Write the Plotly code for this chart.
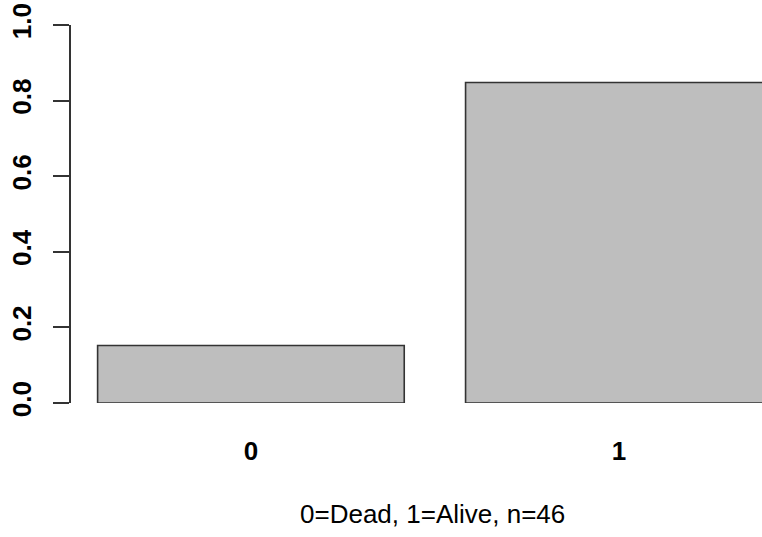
import plotly.graph_objects as go

categories = ["0", "1"]
proportions = [7 / 46, 39 / 46]
y_ticks = [0.0, 0.2, 0.4, 0.6, 0.8, 1.0]
subtitle = "0=Dead, 1=Alive, n=46"

FONT = "Liberation Sans, Arial, sans-serif"

fig = go.Figure(
    go.Bar(
        x=categories,
        y=proportions,
        width=1 / 1.2,
        marker=dict(color="#BEBEBE", line=dict(color="#333333", width=1.6)),
        hoverinfo="skip",
    )
)

fig.add_annotation(
    text=subtitle,
    xref="paper",
    yref="paper",
    x=0.523,
    y=-0.2937,
    xanchor="center",
    yanchor="middle",
    showarrow=False,
    font=dict(family=FONT, size=26, color="black"),
)

fig.update_layout(
    width=762,
    height=537,
    margin=dict(l=71, r=0, t=25, b=134, autoexpand=False),
    paper_bgcolor="white",
    plot_bgcolor="white",
    showlegend=False,
    font=dict(family=FONT, size=26, color="black"),
    xaxis=dict(
        type="category",
        range=[-0.489, 1.389],
        automargin=False,
        showline=False,
        showgrid=False,
        zeroline=False,
        ticks="",
        tickfont=dict(family=FONT, size=26, weight="bold", color="black"),
        ticklabelstandoff=30,
    ),
    yaxis=dict(
        range=[0, 1],
        automargin=False,
        tickvals=y_ticks,
        ticktext=[f"{v:.1f}" for v in y_ticks],
        tickangle=-90,
        showline=True,
        linecolor="#333333",
        linewidth=1.5,
        ticks="outside",
        ticklen=16,
        tickwidth=1.5,
        tickcolor="#333333",
        showgrid=False,
        zeroline=False,
        tickfont=dict(family=FONT, size=26, weight="bold", color="black"),
        ticklabelstandoff=12,
    ),
)

fig.write_html(
    "out.html",
    config={"displayModeBar": False},
    post_script="document.body.style.margin='0';document.body.style.overflow='hidden';",
)
